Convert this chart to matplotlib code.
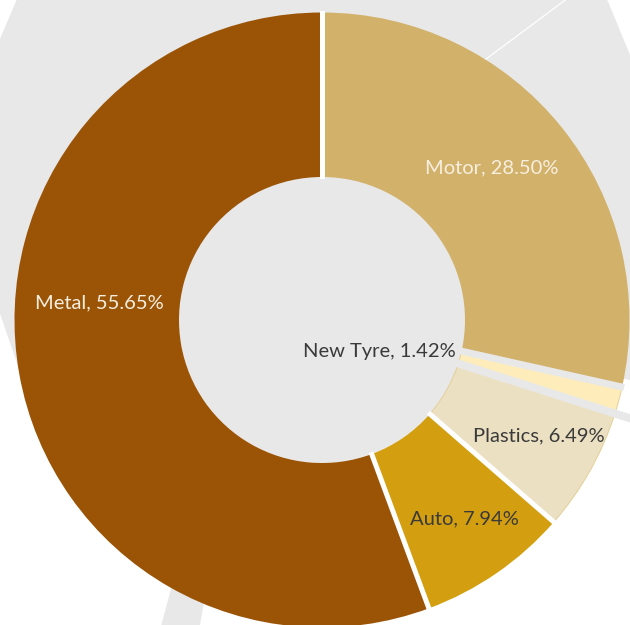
import numpy as np
import matplotlib
matplotlib.use("Agg")
import matplotlib.pyplot as plt
from matplotlib.patches import Wedge, Polygon

# ---- data ----
categories = ["Motor", "New Tyre", "Plastics", "Auto", "Metal"]
shares = [28.50, 1.42, 6.49, 7.94, 55.65]
colors = ["#D2B16B", "#FEEDBA", "#ECE0C2", "#D39F10", "#9B5406"]
label_colors = ["#F6EFE0", "#3A3A3A", "#3A3A3A", "#3A3A3A", "#F6EFE0"]
# label anchor positions (pixels, y down)
label_xy = [(492, 168), (456, 352), (539, 436), (464, 519), (99, 303)]
label_ha = ["center", "right", "center", "center", "center"]

GRAY = "#E8E8E8"
W, H = 630, 625
fig = plt.figure(figsize=(W / 100, H / 100), dpi=100)
ax = fig.add_axes([0, 0, 1, 1])
ax.set_xlim(0, W)
ax.set_ylim(H, 0)
ax.axis("off")

cx, cy = 322, 320
R, r_in = 307.5, 143

# background gray shape
bg = [(25, -20), (599, -20), (660, 127), (660, 385), (600, 375),
      (cx, cy), (20, 372), (-52, 162)]
ax.add_patch(Polygon(bg, closed=True, fc=GRAY, ec="none", zorder=0))
ax.add_patch(Polygon([(160, 630), (199, 630), (210, 570), (176, 570)],
                     closed=True, fc=GRAY, ec="none", zorder=0))
ax.plot([470, 572], [71, -5], color="white", lw=0.9, zorder=0.5)

def direction(a):
    t = np.deg2rad(a)
    return np.array([np.sin(t), -np.cos(t)]), np.array([np.cos(t), np.sin(t)])

# donut wedges (clockwise from top)
total = sum(shares)
start = 0.0
bounds = [0.0]
for cat, v, col in zip(categories, shares, colors):
    span = 360.0 * v / total
    ec = "#E3CF98" if cat in ("New Tyre", "Plastics") else "none"
    ax.add_patch(Wedge((cx, cy), R, start - 90, start + span - 90,
                       width=R - r_in, fc=col, ec=ec, lw=0.7, zorder=2))
    start += span
    bounds.append(start)

# hole
ax.add_patch(Wedge((cx, cy), r_in, 0, 360, fc=GRAY, ec="none", zorder=1))

# gaps between slices
gap_style = {0: ("white", 5, R + 2), 1: (GRAY, 7, R + 2), 2: (GRAY, 8, 420),
             3: ("white", 5, R + 2), 4: ("white", 5, R + 2)}
for i in range(5):
    a = bounds[i]
    colr, w, r1 = gap_style[i]
    d, n = direction(a)
    c = np.array([cx, cy])
    r0 = r_in - 2
    pts = [c + r0 * d + w / 2 * n, c + r1 * d + w / 2 * n,
           c + r1 * d - w / 2 * n, c + r0 * d - w / 2 * n]
    ax.add_patch(Polygon(pts, closed=True, fc=colr, ec="none", zorder=3))

for cat, v, lc, (x, y), ha in zip(categories, shares, label_colors, label_xy, label_ha):
    ax.text(x, y, f"{cat}, {v:.2f}%", color=lc, ha=ha, va="center",
            fontsize=14.5, family="Lato", fontweight="normal", zorder=5)

fig.savefig("out.png", dpi=100)
